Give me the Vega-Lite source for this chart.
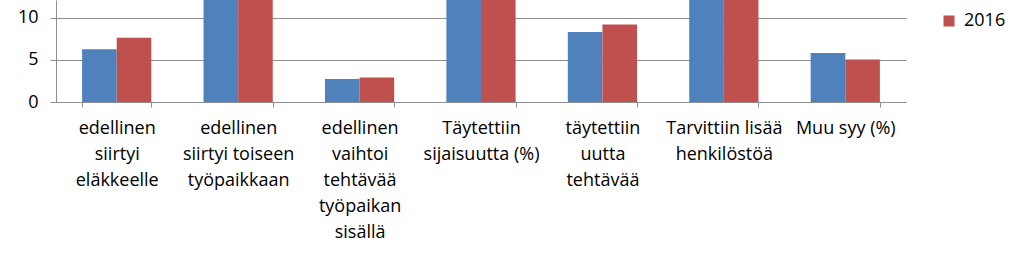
{
  "$schema": "https://vega.github.io/schema/vega-lite/v6.json",
  "autosize": {"type": "none"},
  "width": 850,
  "height": 102,
  "padding": {"left": 56, "top": 0, "right": 117, "bottom": 158},
  "background": "white",
  "data": {
    "values": [
      {"syy": "edellinen\nsiirtyi\neläkkeelle", "vuosi": "2015", "arvo": 6.27},
      {"syy": "edellinen\nsiirtyi\neläkkeelle", "vuosi": "2016", "arvo": 7.62},
      {"syy": "edellinen\nsiirtyi toiseen\ntyöpaikkaan", "vuosi": "2015", "arvo": 31.5},
      {"syy": "edellinen\nsiirtyi toiseen\ntyöpaikkaan", "vuosi": "2016", "arvo": 30.2},
      {"syy": "edellinen\nvaihtoi\ntehtävää\ntyöpaikan\nsisällä", "vuosi": "2015", "arvo": 2.74},
      {"syy": "edellinen\nvaihtoi\ntehtävää\ntyöpaikan\nsisällä", "vuosi": "2016", "arvo": 2.9},
      {"syy": "Täytettiin\nsijaisuutta (%)", "vuosi": "2015", "arvo": 26.4},
      {"syy": "Täytettiin\nsijaisuutta (%)", "vuosi": "2016", "arvo": 25.1},
      {"syy": "täytettiin\nuutta\ntehtävää", "vuosi": "2015", "arvo": 8.3},
      {"syy": "täytettiin\nuutta\ntehtävää", "vuosi": "2016", "arvo": 9.2},
      {"syy": "Tarvittiin lisää\nhenkilöstöä", "vuosi": "2015", "arvo": 19.0},
      {"syy": "Tarvittiin lisää\nhenkilöstöä", "vuosi": "2016", "arvo": 20.0},
      {"syy": "Muu syy (%)", "vuosi": "2015", "arvo": 5.8},
      {"syy": "Muu syy (%)", "vuosi": "2016", "arvo": 5.05}
    ]
  },
  "mark": {"type": "bar", "clip": true},
  "encoding": {
    "x": {
      "field": "syy",
      "type": "nominal",
      "sort": null,
      "scale": {"paddingInner": 0.43, "paddingOuter": 0.215},
      "axis": {
        "title": null,
        "labelAngle": 0,
        "labelLimit": 0,
        "labelExpr": "split(datum.label, '\\n')",
        "labelLineHeight": 26,
        "labelBaseline": "top",
        "labelPadding": 12,
        "tickBand": "extent",
        "tickSize": 5,
        "tickColor": "#8e8e8e",
        "domainColor": "#8e8e8e",
        "grid": false
      }
    },
    "xOffset": {
      "field": "vuosi",
      "type": "nominal",
      "scale": {"paddingInner": 0, "paddingOuter": 0}
    },
    "y": {
      "field": "arvo",
      "type": "quantitative",
      "scale": {"domain": [0, 12.1], "nice": false, "zero": true},
      "axis": {
        "title": null,
        "values": [0, 5, 10],
        "grid": true,
        "gridColor": "#8e8e8e",
        "gridOpacity": 1,
        "tickSize": 6,
        "tickColor": "#8e8e8e",
        "domainColor": "#8e8e8e",
        "labelPadding": 12
      }
    },
    "color": {
      "field": "vuosi",
      "type": "nominal",
      "scale": {"domain": ["2015", "2016"], "range": ["#4F81BD", "#C0504D"]},
      "legend": {
        "title": null,
        "values": ["2016"],
        "orient": "none",
        "legendX": 884,
        "legendY": 12,
        "padding": 0,
        "symbolType": "square",
        "symbolSize": 121,
        "symbolStrokeWidth": 0,
        "labelOffset": 6,
        "labelFontSize": 18,
        "labelFont": "Open Sans",
        "labelColor": "#000000"
      }
    }
  },
  "config": {
    "view": {"stroke": null},
    "axis": {
      "labelFont": "Open Sans",
      "labelFontSize": 18,
      "labelColor": "#000000",
      "domainWidth": 1,
      "tickWidth": 1,
      "gridWidth": 1
    }
  }
}
